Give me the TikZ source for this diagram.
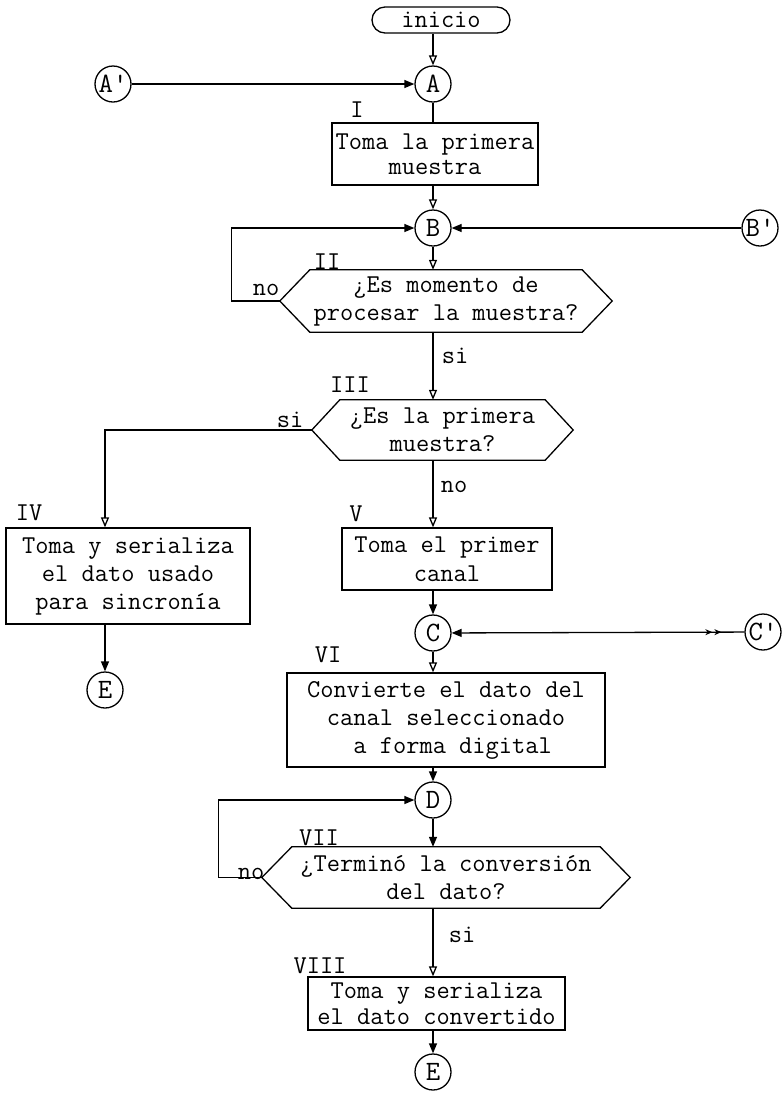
\documentclass[tikz,border=0pt]{standalone}
\usetikzlibrary{arrows.meta,shapes.misc,decorations.markings,calc}
% hexagonal decision outline around a text node: #1 node, #2 point depth
\newcommand\hexagonal[2]{%
  \draw[line] (#1.north west) -- (#1.north east) -- ([xshift=#2]#1.east)
    -- (#1.south east) -- (#1.south west) -- ([xshift=-#2]#1.west) -- cycle;
  \coordinate (#1l) at ([xshift=-#2]#1.west);}
\begin{document}
\begin{tikzpicture}[x=1pt,y=-1pt,
  every node/.style={font=\ttfamily\fontsize{25.7}{28}\selectfont, inner sep=0pt},
  line/.style={line width=1.3pt},
  fillarrow/.style={line, -{Triangle[length=10pt,width=8pt]}},
  openarrow/.style={line, -{Triangle[open,length=10pt,width=8pt]}},
  stepbox/.style={draw, line width=1.3pt, rectangle, align=center},
  conn/.style={draw, line width=1.3pt, circle, minimum size=36pt,
    font=\ttfamily\fontsize{28}{28}\selectfont},
  test/.style={rectangle, align=center},
  term/.style={draw, line width=1.3pt, rounded rectangle,
    minimum width=138pt, minimum height=26pt},
]
\useasboundingbox (0,0) rectangle (784,1104);

% start and connectors
\node[term] (inicio) at (441,20) {inicio};
\node[conn] (A) at (433,84) {A};
\node[conn] (Ap) at (113,84) {A'};

\node (nI) at (357,110) {I};
\node[stepbox, minimum width=206pt, minimum height=62pt] (I) at (435,154)
  {Toma la primera\\[-3pt] muestra};

\node[conn] (B) at (433,228) {B};
\node[conn] (Bp) at (760,228) {B'};

% decision II
\node (nII) at (327,262) {II};
\node[test, minimum width=272pt, minimum height=62pt] (II) at (446,301)
  {¿Es momento de\\ procesar la muestra?};
\hexagonal{II}{30pt}
\node (noII) at (266,290) {no};
\node (siII) at (455,356) {si};

% decision III
\node (nIII) at (350,385) {III};
\node[test, minimum width=205pt, minimum height=60pt] (III) at (442.5,430)
  {¿Es la primera\\ muestra?};
\hexagonal{III}{28pt}
\node (siIII) at (290,420) {si};
\node (noIII) at (454,487) {no};

% branch IV
\node (nIV) at (29,513) {IV};
\node[stepbox, minimum width=244pt, minimum height=96pt] (IV) at (128,576)
  {Toma y serializa\\ el dato usado\\ para sincronía};
\node[conn] (Ea) at (105,690) {E};

% branch V
\node (nV) at (356,514) {V};
\node[stepbox, minimum width=210pt, minimum height=62pt] (V) at (447,559)
  {Toma el primer\\[1pt] canal};

\node[conn] (C) at (433,633) {C};
\node[conn] (Cp) at (763,632) {C'};

\node (nVI) at (328,655) {VI};
\node[stepbox, minimum width=318pt, minimum height=94pt] (VI) at (446,720)
  {Convierte el dato del\\ canal seleccionado\\ \ a forma digital};

\node[conn] (D) at (433,800) {D};

% decision VII
\node (nVII) at (319,838) {VII};
\node[test, minimum width=308pt, minimum height=61pt] (VII) at (446,877.5)
  {¿Terminó la conversión\\ del dato?};
\hexagonal{VII}{30pt}
\node (noVII) at (251,874) {no};
\node (siVII) at (462,935) {si};

\node (nVIII) at (320,966) {VIII};
\node[stepbox, minimum width=257pt, minimum height=53pt] (VIII) at (436.5,1003.5)
  {Toma y serializa\\[-2pt] el dato convertido};
\node[conn] (Eb) at (433,1072) {E};

% connectors
\draw[openarrow] (A |- inicio.south) -- (A);
\draw[fillarrow] (Ap) -- (A);
\draw[line] (A) -- (A |- I.north);
\draw[openarrow] (I.south -| B) -- (B);
\draw[fillarrow] (Bp) -- (B);
\draw[fillarrow] (IIl) -- ++(-48,0) |- (B);
\draw[openarrow] (B) -- (B |- II.north);
\draw[openarrow] (II.south -| B) -- (B |- III.north);
\draw[openarrow] (IIIl) -| (Ea |- IV.north);
\draw[openarrow] (III.south -| C) -- (C |- V.north);
\draw[fillarrow] (Ea |- IV.south) -- (Ea);
\draw[fillarrow] (V.south -| C) -- (C);
\draw[openarrow] (C) -- (C |- VI.north);
\draw[fillarrow, postaction={decorate}, decoration={markings,
    mark=at position 23pt with {\arrowreversed[line width=1pt]{Stealth[length=7pt,width=6pt]}},
    mark=at position 32pt with {\arrowreversed[line width=1pt]{Stealth[length=7pt,width=6pt]}}}]
  (Cp) -- (C);
\draw[fillarrow] (VI.south -| D) -- (D);
\draw[fillarrow] (D) -- (D |- VII.north);
\draw[fillarrow] (VIIl) -- ++(-43,0) |- (D);
\draw[openarrow] (VII.south -| Eb) -- (Eb |- VIII.north);
\draw[fillarrow] (VIII.south -| Eb) -- (Eb);
\end{tikzpicture}
\end{document}
